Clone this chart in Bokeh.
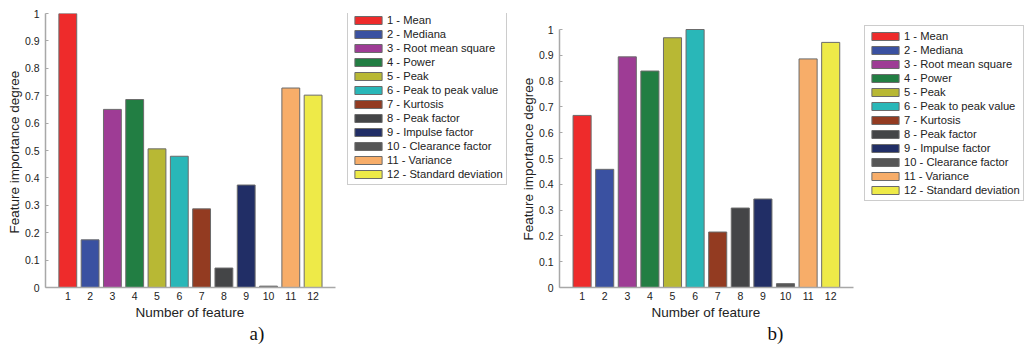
from bokeh.plotting import figure
from bokeh.models import Range1d, Legend, LegendItem, Title, ColumnDataSource, FixedTicker
from bokeh.layouts import row
from bokeh.embed import file_html
from bokeh.resources import INLINE

features = list(range(1, 13))
feature_names = ["1 - Mean", "2 - Mediana", "3 - Root mean square", "4 - Power",
                 "5 - Peak", "6 - Peak to peak value", "7 - Kurtosis", "8 - Peak factor",
                 "9 - Impulse factor", "10 - Clearance factor", "11 - Variance",
                 "12 - Standard deviation"]
colors = ["#EE2B2B", "#3A51A1", "#9E3C95", "#227E43", "#B8B834", "#29B7B8",
          "#933B21", "#444547", "#212E66", "#565656", "#F7AD69", "#EEEA48"]
values_a = [1.0, 0.174, 0.65, 0.686, 0.506, 0.479, 0.287, 0.071, 0.374, 0.005, 0.728, 0.702]
values_b = [0.667, 0.458, 0.894, 0.839, 0.968, 1.0, 0.215, 0.308, 0.343, 0.015, 0.886, 0.95]
y_ticks = [0, 0.1, 0.2, 0.3, 0.4, 0.5, 0.6, 0.7, 0.8, 0.9, 1]
y_tick_labels = ["0", "0.1", "0.2", "0.3", "0.4", "0.5", "0.6", "0.7", "0.8", "0.9", "1"]
x_tick_labels = [str(f) for f in features]
x_label = "Number of feature"
y_label = "Feature importance degree"
panel_labels = ["a)", "b)"]

SANS = "Liberation Sans"
SERIF = "Liberation Serif"
H = 349
MB_TOP = 13
MB_BOTTOM = 62
LEG_H = 172


def make_panel(values, width, mb_left, mb_right, px_x, px_y, legend_left, legend_top,
               panel_label, xlab_off, plab_off, ylab_off):
    frame_w = width - mb_left - mb_right
    frame_h = H - MB_TOP - MB_BOTTOM
    p = figure(width=width, height=H, output_backend="svg", toolbar_location=None,
               x_range=Range1d(0, frame_w / px_x), y_range=Range1d(0, frame_h / px_y),
               min_border_left=mb_left, min_border_right=mb_right,
               min_border_top=MB_TOP, min_border_bottom=MB_BOTTOM)
    p.outline_line_color = None
    p.grid.visible = False
    p.background_fill_color = "white"
    p.border_fill_color = "white"

    src = ColumnDataSource(dict(x=features, top=values, color=colors, name=feature_names))
    r = p.vbar(x="x", top="top", width=0.8, bottom=0, source=src,
               fill_color="color", line_color="#6b6b6b", line_width=1)

    for ax in (p.xaxis[0], p.yaxis[0]):
        ax.axis_line_color = "#a8a8a8"
        ax.axis_line_width = 1.5
        ax.major_tick_line_color = "#a8a8a8"
        ax.minor_tick_line_color = None
        ax.major_label_text_font = SANS
        ax.major_label_text_font_size = "10.5px"
        ax.major_label_text_color = "#222222"
        ax.axis_label = None

    xa = p.xaxis[0]
    xa.ticker = FixedTicker(ticks=features)
    xa.major_label_overrides = {f: l for f, l in zip(features, x_tick_labels)}
    xa.major_tick_in = 0
    xa.major_tick_out = 0
    xa.bounds = (0, 13)
    xa.major_label_standoff = 4

    ya = p.yaxis[0]
    ya.ticker = FixedTicker(ticks=y_ticks)
    ya.major_label_overrides = {t: l for t, l in zip(y_ticks, y_tick_labels)}
    ya.major_tick_in = 3
    ya.major_tick_out = 0
    ya.bounds = (0, 1)
    ya.major_label_standoff = 6

    p.add_layout(Title(text=x_label, align="left", offset=xlab_off, standoff=0,
                       text_font=SANS, text_font_size="13.5px", text_font_style="normal",
                       text_color="#222222"), "below")
    p.add_layout(Title(text=panel_label, align="left", offset=plab_off, standoff=3,
                       vertical_align="bottom",
                       text_font=SERIF, text_font_size="19px", text_font_style="normal",
                       text_color="#111111"), "below")
    p.add_layout(Title(text=y_label, align="left", offset=ylab_off, standoff=0,
                       text_font=SANS, text_font_size="13.5px", text_font_style="normal",
                       text_color="#222222"), "left")

    items = [LegendItem(label=n, renderers=[r], index=i) for i, n in enumerate(feature_names)]
    leg = Legend(items=items, location=(legend_left, frame_h - legend_top - LEG_H))
    leg.label_text_font = SANS
    leg.label_text_font_size = "11.2px"
    leg.label_text_color = "#222222"
    leg.glyph_width = 34
    leg.glyph_height = 10
    leg.label_height = 14
    leg.label_standoff = 2
    leg.spacing = 0
    leg.padding = 3
    leg.margin = 0
    leg.border_line_color = "#999999"
    leg.border_line_width = 1
    leg.background_fill_color = "white"
    leg.background_fill_alpha = 1
    p.add_layout(leg, "center")
    return p


# panel a: frame page x 45..514, y 13..287 ; panel b: frame page x 559..1028
pa = make_panel(values_a, 514, 45, 0, 22.3, 274, 302, 0, panel_labels[0], 90, 204, 54)
pb = make_panel(values_b, 514, 45, 0, 22.6, 258, 305, 16, panel_labels[1], 92, 208, 47)

layout = row(pa, pb)
open("out.html", "w").write(file_html(layout, INLINE))
